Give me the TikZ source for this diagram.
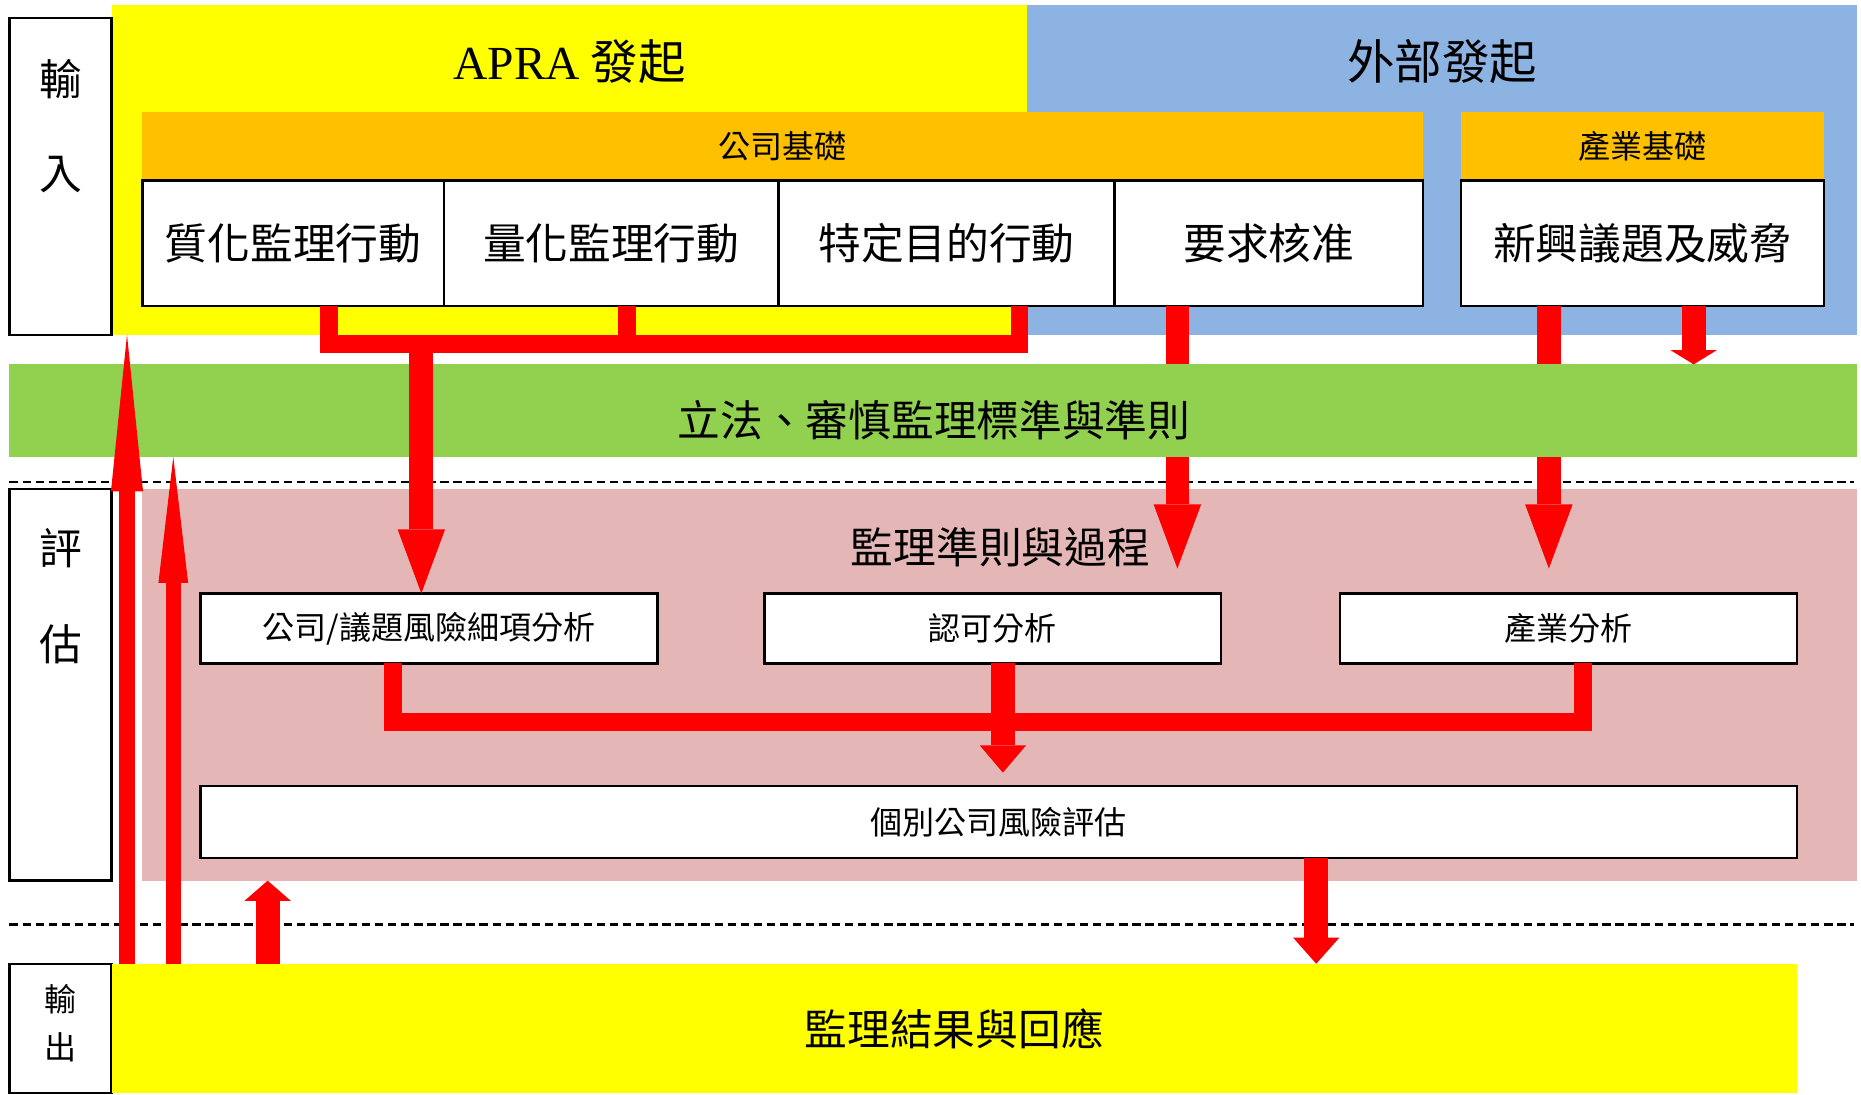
\documentclass[tikz,border=0pt]{standalone}
\usepackage{fontspec}
\setmainfont{Noto Sans CJK TC}
\newfontfamily\latinserif{Liberation Serif}
\usetikzlibrary{arrows.meta}
\definecolor{ylw}{HTML}{FFFF00}
\definecolor{blu}{HTML}{8DB3E2}
\definecolor{org}{HTML}{FFC000}
\definecolor{grn}{HTML}{92D050}
\definecolor{pnk}{HTML}{E4B6B6}
\definecolor{rd}{HTML}{FF0000}
\newcommand{\fs}[1]{\fontsize{#1}{#1}\selectfont}
\tikzset{
  region/.style={draw=none, inner sep=0pt, outer sep=0pt},
  wbox/.style={fill=white, draw=black, line width=2pt, inner sep=0pt, outer sep=0pt},
  conn/.style={draw=rd, line width=15pt, line join=miter},
  arr/.style={draw=rd, line width=20pt},
  thinarr/.style={draw=rd, line width=13.5pt},
  sep/.style={draw=black, line width=2.3pt, dash pattern=on 7pt off 4pt},
  big/.style={font=\fs{36}},
  mid/.style={font=\fs{27}},
  title/.style={font=\fs{40}},
}
\begin{document}
\begin{tikzpicture}[x=1pt,y=-1pt]
\useasboundingbox[fill=white] (0,0) rectangle (1568,922);
% background regions
\node[region, fill=ylw, minimum width=771pt, minimum height=278pt] (apra) at (479.5,143) {};
\node[region, fill=blu, minimum width=700pt, minimum height=278pt] (ext) at (1215,143) {};
\node[title] (apraT) at (480,52) {{\latinserif APRA} 發起};
\node[title] (extT) at (1215,52) {外部發起};
\node[region, fill=org, minimum width=1079pt, minimum height=58pt, mid] (coBar) at (659.5,123) {公司基礎};
\node[region, fill=org, minimum width=306pt, minimum height=58pt, mid] (indBar) at (1384,123) {產業基礎};
\node[wbox, minimum width=254pt, minimum height=106pt, big] (q1) at (247,205) {質化監理行動};
\node[wbox, minimum width=282pt, minimum height=106pt, big] (q2) at (515,205) {量化監理行動};
\node[wbox, minimum width=283pt, minimum height=106pt, big] (q3) at (797.5,205) {特定目的行動};
\node[wbox, minimum width=260pt, minimum height=106pt, big] (q4) at (1069,205) {要求核准};
\node[wbox, minimum width=306pt, minimum height=106pt, big] (q5) at (1384,205) {新興議題及威脅};
% left labels
\node[wbox, minimum width=86pt, minimum height=267pt] (inlab) at (51,148.5) {};
\node[big] (inA) at (51,67) {輸};
\node[big] (inB) at (51,147) {入};
% evaluation
\node[wbox, minimum width=86pt, minimum height=330pt] (evlab) at (51,577) {};
\node[big] (evA) at (51,462) {評};
\node[big] (evB) at (51,543) {估};
\node[region, fill=pnk, minimum width=1445pt, minimum height=330pt] (pink) at (842.5,577) {};
\node[big] (pinkT) at (843,461) {監理準則與過程};
\node[wbox, minimum width=385pt, minimum height=59pt, mid] (b1) at (361.5,529.5) {公司/議題風險細項分析};
\node[wbox, minimum width=385pt, minimum height=59pt, mid] (b2) at (836.5,529.5) {認可分析};
\node[wbox, minimum width=385pt, minimum height=59pt, mid] (b3) at (1321.5,529.5) {產業分析};
\node[wbox, minimum width=1345pt, minimum height=61pt, mid] (b4) at (841.5,692.5) {個別公司風險評估};
% dashed separators
\coordinate (d1a) at (8,406); \coordinate (d1b) at (1562,406);
\coordinate (d2a) at (8,779); \coordinate (d2b) at (1562,779);
\draw[sep] (d1a) -- (d1b);
\draw[sep] (d2a) -- (d2b);
% arrows passing behind the green bar
\coordinate (t2) at (992,479);
\coordinate (t3) at (1305,479);
\draw[arr, -{Triangle[length=54pt,width=40pt,line width=0pt]}] ([xshift=-77pt]q4.south) -- (t2);
\draw[arr, -{Triangle[length=54pt,width=40pt,line width=0pt]}] ([xshift=-79pt]q5.south) -- (t3);
% green bar
\node[region, fill=grn, minimum width=1557pt, minimum height=78pt] (green) at (786.5,346) {};
\node[big] (greenT) at (787,354) {立法、審慎監理標準與準則};
% output
\node[wbox, minimum width=86pt, minimum height=109pt] (outlab) at (51,866.5) {};
\node[mid] (outA) at (51,842) {輸};
\node[mid] (outB) at (51,882) {出};
\node[region, fill=ylw, minimum width=1420pt, minimum height=109pt, big] (out) at (804,866.5) {監理結果與回應};
% connectors: top
\coordinate (hb) at (0,290);
\draw[conn] ([xshift=30pt]q1.south) |- ([xshift=61.5pt]q3.south |- hb) -- ([xshift=61.5pt]q3.south);
\draw[conn] ([xshift=13pt]q2.south) -- ([xshift=13pt]q2.south |- hb);
\coordinate (j1) at (355,284);
\draw[arr, -{Triangle[length=54pt,width=40pt,line width=0pt]}] (j1) -- ([xshift=-6.5pt]b1.north);
\draw[arr, -{Triangle[length=12pt,width=39pt,line width=0pt]}] ([xshift=43pt]q5.south) -- ([xshift=43pt]q5.south |- green.north);
% connectors: middle
\coordinate (hm) at (0,608);
\draw[conn] ([xshift=-30.5pt]b1.south) |- ([xshift=12.5pt]b3.south |- hm) -- ([xshift=12.5pt]b3.south);
\coordinate (t5) at (845,651);
\draw[arr, -{Triangle[length=23pt,width=39pt,line width=0pt]}] ([xshift=8.5pt]b2.south) -- (t5);
\draw[arr, -{Triangle[length=22pt,width=39pt,line width=0pt]}] ([xshift=267.5pt]b4.south) -- ([xshift=267.5pt]b4.south |- out.north);
% feedback arrows
\draw[thinarr, -{Triangle[length=132pt,width=27pt,line width=0pt]}] ([xshift=-697pt]out.north) -- ([xshift=-697pt]out.north |- inlab.south);
\draw[thinarr, line width=13pt, -{Triangle[length=106pt,width=25pt,line width=0pt]}] ([xshift=-658pt]out.north) -- ([xshift=-658pt]out.north |- green.south);
\draw[arr, -{Triangle[length=17pt,width=39pt,line width=0pt]}] ([xshift=-578.5pt]out.north) -- ([xshift=-578.5pt]out.north |- pink.south);
\end{tikzpicture}
\end{document}
